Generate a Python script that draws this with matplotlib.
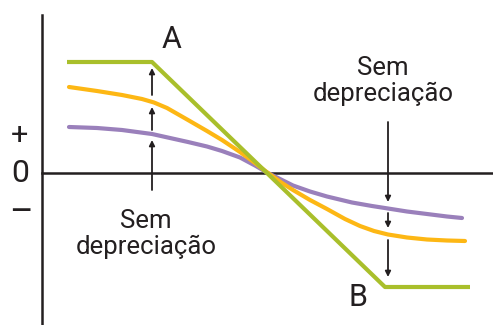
import matplotlib
matplotlib.use("Agg")
import matplotlib.pyplot as plt

plt.rcParams['font.family'] = ['Roboto', 'DejaVu Sans']

# curves (x, y); origin where the three lines cross
green_x = [25, 110, 343, 428]
green_y = [111, 111, -114, -114]

orange_x = [27, 55, 80, 100, 112, 125, 146, 165, 180, 198, 213, 226, 240, 251, 268, 285, 303, 318, 332, 346, 365, 385, 405, 423]
orange_y = [86, 82, 78, 74, 70.5, 65, 53, 42, 33, 21, 10, 0, -10, -17, -27, -36, -46, -53, -58, -61.5, -64.5, -66.5, -67.5, -68]

purple_x = [27, 55, 80, 110, 128, 146, 165, 180, 198, 213, 226, 240, 251, 268, 285, 310, 330, 346, 365, 385, 405, 420]
purple_y = [46, 45, 43, 39, 35, 31, 26.5, 22, 15.5, 7.5, 0, -7, -12.5, -18.5, -23.5, -29.5, -33, -35.5, -38.5, -41, -43.5, -45]

# arrows: (x, y_start, y_end)
left_arrows = [(110, 78, 105), (110, 43, 66), (110, -17, 33)]
right_arrows = [(346, 51, -29), (346, -40, -55), (346, -67, -104)]

GREEN = '#a9bf2b'
ORANGE = '#fdb714'
PURPLE = '#9a80bb'
INK = '#231f20'

fig = plt.figure(figsize=(4.93, 3.25), dpi=100)
ax = fig.add_axes([0, 0, 1, 1])
ax.set_xlim(-42, 451)
ax.set_ylim(-152, 173)

for s in ['top', 'right']:
    ax.spines[s].set_visible(False)
ax.spines['left'].set_position(('data', 0))
ax.spines['left'].set_bounds(-152, 158)
ax.spines['bottom'].set_position(('data', 0))
ax.spines['bottom'].set_bounds(0, 451)
for s in ['left', 'bottom']:
    ax.spines[s].set_linewidth(1.8)
    ax.spines[s].set_color(INK)
ax.set_xticks([])
ax.set_yticks([])
ax.patch.set_alpha(0)

lw = 3.0
ax.plot(purple_x, purple_y, color=PURPLE, lw=lw, solid_capstyle='round', zorder=3)
ax.plot(orange_x, orange_y, color=ORANGE, lw=lw, solid_capstyle='round', zorder=4)
ax.plot(green_x, green_y, color=GREEN, lw=lw, solid_capstyle='butt', zorder=5)

for x, y0, y1 in left_arrows + right_arrows:
    ax.annotate('', xy=(x, y1), xytext=(x, y0),
                arrowprops=dict(arrowstyle='-|>', color=INK, lw=1.3,
                                mutation_scale=8, shrinkA=0, shrinkB=0),
                zorder=6)

ax.text(130, 133, 'A', fontsize=22, color=INK, ha='center', va='center')
ax.text(316, -125, 'B', fontsize=22, color=INK, ha='center', va='center')

ax.text(104, -61, 'Sem\ndepreciação', fontsize=18.5, color=INK, ha='center', va='center',
        linespacing=1.1)
ax.text(341, 92, 'Sem\ndepreciação', fontsize=18.5, color=INK, ha='center', va='center',
        linespacing=1.1)

ax.text(-22, 38, '+', fontsize=22, color=INK, ha='center', va='center')
ax.text(-22, 0, '0', fontsize=23, color=INK, ha='center', va='center')
ax.text(-21, -40, '\u2013', fontsize=26, color=INK, ha='center', va='center')

fig.savefig('out.png', dpi=100)
